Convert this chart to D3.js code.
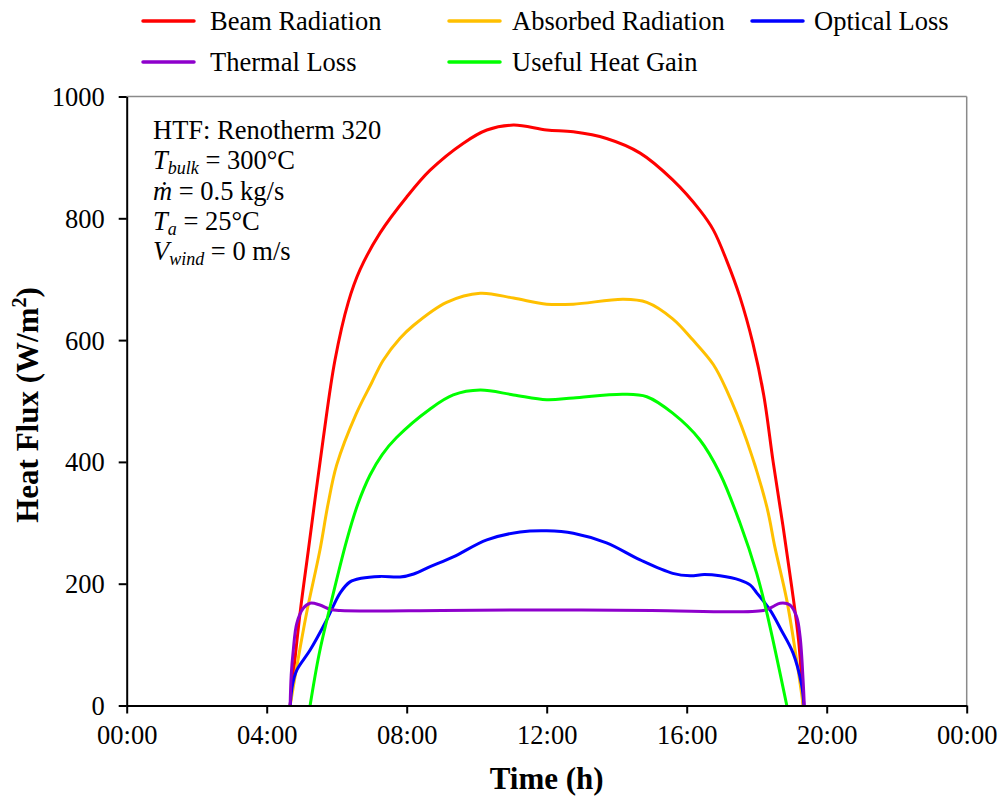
<!DOCTYPE html>
<html>
<head>
<meta charset="utf-8">
<script src="https://cdn.jsdelivr.net/npm/d3@7/dist/d3.min.js"></script>
<style>
  html, body { margin: 0; padding: 0; background: #fff; }
  svg { display: block; font-family: "Liberation Serif", "Times New Roman", serif; }
</style>
</head>
<body>
<svg id="chart" width="1001" height="796"></svg>
<script>
// Hourly heat-flux balance of the receiver, [hour of day, W/m²]
const beamRadiation = [
  [4.67, 0], [4.95, 150], [5.19, 255], [5.61, 436], [5.95, 567], [6.33, 662],
  [6.67, 716], [7.24, 776], [8.0, 835], [8.67, 879], [9.61, 923], [10.29, 945],
  [11.05, 953], [12.0, 945], [12.76, 942], [13.71, 931], [14.67, 907], [15.6, 863],
  [16.38, 813], [16.76, 781], [17.14, 731], [17.52, 671], [17.89, 595], [18.2, 510],
  [18.47, 400], [18.75, 295], [19.0, 195], [19.2, 105], [19.33, 0]
];
const absorbedRadiation = [
  [4.67, 0], [4.86, 64], [5.14, 152], [5.52, 255], [5.75, 330], [6.0, 395],
  [6.55, 478], [7.0, 530], [7.33, 567], [7.81, 603], [8.19, 624], [9.14, 662],
  [10.1, 677], [11.05, 669], [12.0, 659], [12.76, 659], [14.19, 667], [14.86, 662],
  [15.6, 635], [16.18, 600], [16.76, 560], [17.14, 518], [17.71, 436], [18.29, 326],
  [18.52, 260], [18.86, 173], [19.14, 75], [19.33, 0]
];
const opticalLoss = [
  [4.67, 0], [4.74, 35], [4.86, 58], [5.24, 91], [5.71, 140], [6.1, 185],
  [6.38, 203], [6.7, 209], [7.24, 212], [7.81, 211], [8.2, 216], [8.67, 228],
  [9.33, 244], [10.29, 272], [11.24, 285], [12.0, 287], [12.76, 283], [13.71, 267],
  [14.67, 239], [15.6, 217], [16.1, 213], [16.5, 215], [16.95, 213], [17.52, 206],
  [17.81, 198], [18.0, 185], [18.38, 157], [18.7, 124], [19.04, 86], [19.28, 35], [19.35, 0]
];
const thermalLoss = [
  [4.67, 0], [4.7, 50], [4.76, 91], [4.86, 135], [5.05, 160], [5.24, 168],
  [5.52, 165], [5.81, 158], [6.1, 156], [9.0, 156], [12.0, 157], [15.0, 156],
  [18.19, 156], [18.45, 162], [18.67, 168], [18.95, 165], [19.14, 146],
  [19.24, 113], [19.33, 37], [19.36, 0]
];
const usefulHeatGain = [
  [5.24, 0], [5.5, 85], [5.81, 162], [6.29, 272], [6.6, 330], [6.95, 378],
  [7.3, 412], [7.71, 440], [8.67, 487], [9.33, 510], [10.1, 518], [11.05, 510],
  [12.0, 502], [12.76, 505], [14.19, 511], [14.86, 507], [15.6, 480], [16.38, 436],
  [16.95, 381], [17.52, 300], [18.0, 217], [18.29, 152], [18.86, 0]
];

const seriesNames = ["Beam Radiation", "Absorbed Radiation", "Optical Loss", "Thermal Loss", "Useful Heat Gain"];
const seriesColors = ["#FF0000", "#FFC000", "#0000FF", "#8E00CC", "#00FF00"];
const seriesData = [beamRadiation, absorbedRadiation, opticalLoss, thermalLoss, usefulHeatGain];

const xTickValues = [0, 4, 8, 12, 16, 20, 24];
const xTickLabels = ["00:00", "04:00", "08:00", "12:00", "16:00", "20:00", "00:00"];
const yTickValues = [0, 200, 400, 600, 800, 1000];

const svg = d3.select("#chart");
const plotLeft = 126.7, plotRight = 966.7, plotTop = 96.5, plotBottom = 705.5;

const x = d3.scaleLinear().domain([0, 24]).range([plotLeft, plotRight]);
const y = d3.scaleLinear().domain([0, 1000]).range([plotBottom, plotTop]);

// frame: grey top and right edges
svg.append("line").attr("x1", plotLeft).attr("x2", plotRight).attr("y1", plotTop).attr("y2", plotTop)
  .attr("stroke", "#8a8a8a").attr("stroke-width", 1.5);
svg.append("line").attr("x1", plotRight).attr("x2", plotRight).attr("y1", plotTop).attr("y2", plotBottom)
  .attr("stroke", "#8a8a8a").attr("stroke-width", 1.5);

// series lines
const line = d3.line().x(d => x(d[0])).y(d => y(d[1])).curve(d3.curveCatmullRom.alpha(0.5));
const plot = svg.append("g");
seriesData.forEach((data, i) => {
  plot.append("path").datum(data)
    .attr("d", line)
    .attr("fill", "none")
    .attr("stroke", seriesColors[i])
    .attr("stroke-width", 3)
    .attr("stroke-linejoin", "round")
    .attr("stroke-linecap", "round");
});

// axes
const xAxis = svg.append("g").attr("transform", `translate(0,${plotBottom})`)
  .call(d3.axisBottom(x).tickValues(xTickValues).tickFormat((d, i) => xTickLabels[i])
    .tickSize(8).tickSizeOuter(0).tickPadding(12));
const yAxis = svg.append("g").attr("transform", `translate(${plotLeft},0)`)
  .call(d3.axisLeft(y).tickValues(yTickValues).tickFormat(d3.format("d"))
    .tickSize(8).tickSizeOuter(0).tickPadding(14));

[xAxis, yAxis].forEach(g => {
  g.attr("font-family", null).attr("font-size", null);
  g.select(".domain").attr("stroke", "#000").attr("stroke-width", 2);
  g.selectAll(".tick line").attr("stroke", "#000").attr("stroke-width", 2);
  g.selectAll(".tick text").attr("font-size", 26.5).attr("fill", "#000");
});
yAxis.selectAll(".tick text").attr("dy", "0.34em");

// axis titles
svg.append("text")
  .attr("x", (plotLeft + plotRight) / 2).attr("y", 789)
  .attr("text-anchor", "middle")
  .attr("font-size", 31).attr("font-weight", "bold")
  .text("Time (h)");

const yTitle = svg.append("text")
  .attr("transform", "translate(38,405) rotate(-90)")
  .attr("text-anchor", "middle")
  .attr("font-size", 31).attr("font-weight", "bold");
yTitle.append("tspan").text("Heat Flux (W/m");
yTitle.append("tspan").attr("font-size", 20).attr("dy", -12).text("2");
yTitle.append("tspan").attr("dy", 12).text(")");

// legend
const legendLineX = [143, 449, 752];
const legendTextX = [210, 512, 814];
const legendRows = [21, 62];
seriesNames.forEach((name, i) => {
  const col = i % 3, ly = legendRows[Math.floor(i / 3)];
  const g = svg.append("g");
  g.append("line").attr("x1", legendLineX[col]).attr("x2", legendLineX[col] + 51).attr("y1", ly).attr("y2", ly)
    .attr("stroke", seriesColors[i]).attr("stroke-width", 3.5).attr("stroke-linecap", "round");
  g.append("text").attr("x", legendTextX[col]).attr("y", ly + 8.5)
    .attr("font-size", 26.5).text(name);
});

// operating conditions
const notes = svg.append("g").attr("font-size", 26.5);
const nx = 153;
notes.append("text").attr("x", nx).attr("y", 139).text("HTF: Renotherm 320");

const t1 = notes.append("text").attr("x", nx).attr("y", 169);
t1.append("tspan").attr("font-style", "italic").text("T");
t1.append("tspan").attr("font-style", "italic").attr("font-size", 18).attr("dy", 5).text("bulk");
t1.append("tspan").attr("dy", -5).text(" = 300°C");

const t2 = notes.append("text").attr("x", nx).attr("y", 200);
t2.append("tspan").attr("font-style", "italic").text("ṁ");
t2.append("tspan").text(" = 0.5 kg/s");

const t3 = notes.append("text").attr("x", nx).attr("y", 230);
t3.append("tspan").attr("font-style", "italic").text("T");
t3.append("tspan").attr("font-style", "italic").attr("font-size", 18).attr("dy", 5).text("a");
t3.append("tspan").attr("dy", -5).text(" = 25°C");

const t4 = notes.append("text").attr("x", nx).attr("y", 260);
t4.append("tspan").attr("font-style", "italic").text("V");
t4.append("tspan").attr("font-style", "italic").attr("font-size", 18).attr("dy", 5).text("wind");
t4.append("tspan").attr("dy", -5).text(" = 0 m/s");
</script>
</body>
</html>
